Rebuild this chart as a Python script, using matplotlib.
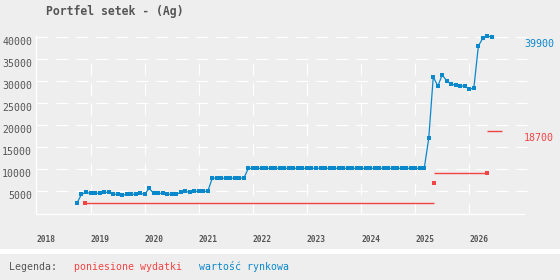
import matplotlib
matplotlib.use("Agg")
import matplotlib.pyplot as plt
import pandas as pd
from matplotlib.patches import Rectangle

# ---------------- data ----------------
title = "Portfel setek - (Ag)"
start_month = "2018-10-01"
market_value = [
    2300, 4250, 4700, 4480, 4480, 4480, 4700, 4700, 4250, 4250,
    4000, 4250, 4250, 4250, 4480, 4250, 5600, 4480, 4480, 4480,
    4250, 4250, 4250, 4700, 4930, 4700, 4930, 4930, 4930, 4930,
    7900, 7900, 7900, 7900, 7900, 7900, 7900, 7900,
    10150, 10150, 10150, 10150, 10150, 10150, 10150, 10150, 10150, 10150,
    10150, 10150, 10150, 10150, 10150, 10150, 10150, 10150, 10150, 10150,
    10150, 10150, 10150, 10150, 10150, 10150, 10150, 10150, 10150, 10150,
    10150, 10150, 10150, 10150, 10150, 10150, 10150, 10150, 10150, 10150,
    16970, 30900, 28800, 31360, 29930, 29250, 29000, 28800, 28800, 28100,
    28340, 37890, 39700, 40160, 39900,
]
# spending: marker points and horizontal segments (start, end, level)
spend_marker_x = [2018.9, 2025.34, 2026.33]
spend_marker_y = [2200, 6750, 9000]
spend_seg_start = [2018.9, 2025.34, 2026.33]
spend_seg_end = [2025.34, 2026.33, 2026.6]
spend_seg_level = [2200, 9000, 18700]

last_market = 39900
last_spend = 18700
years = [2018, 2019, 2020, 2021, 2022, 2023, 2024, 2025, 2026]
yticks = [5000, 10000, 15000, 20000, 25000, 30000, 35000, 40000]
legend_title = "Legenda:"
legend_spend = "poniesione wydatki"
legend_market = "wartość rynkowa"

# ---------------- style ----------------
BG = "#eeeeee"
BLUE = "#0a88cc"
RED = "#f24444"
GRAY = "#555555"
MONO = ["DejaVu Sans Mono"]
plt.rcParams["lines.scale_dashes"] = False
plt.rcParams["font.family"] = MONO

dates = pd.date_range(start_month, periods=len(market_value), freq="MS")
xdec = [d.year + (d.month - 1) / 12 for d in dates]

fig = plt.figure(figsize=(5.6, 2.8), dpi=100, facecolor=BG)
ax = fig.add_axes([36.4 / 560, (280 - 214) / 280, (524 - 36.4) / 560, (214 - 36) / 280])
ax.set_facecolor(BG)
ax.set_xlim(2018, 2027.01)
ax.set_ylim(-220, 40160)

dash = (0, (8.64, 5.76))
x_end = 2018 + (527 - 36.4) / 54.1
for y in yticks:
    ax.plot([2018, x_end], [y, y], color="white", lw=0.85, ls=dash, clip_on=False, zorder=1)
for yr in years[1:]:
    ax.plot([yr, yr], [34030, -220], color="white", lw=0.85, ls=dash, zorder=1)

for s in ["top", "right"]:
    ax.spines[s].set_visible(False)
for s in ["left", "bottom"]:
    ax.spines[s].set_color("white")
    ax.spines[s].set_linewidth(0.9)

ax.set_xticks(years)
ax.set_xticklabels([str(y) for y in years])
ax.set_yticks(yticks)
ax.set_yticklabels([str(y) for y in yticks])
ax.tick_params(axis="both", length=0)
ax.tick_params(axis="x", pad=15, labelsize=5.7, labelcolor=GRAY)
ax.tick_params(axis="y", pad=3, labelsize=7.1, labelcolor=GRAY)
for lab in ax.get_xticklabels():
    lab.set_ha("left")
    lab.set_fontweight("bold")
for lab in ax.get_yticklabels():
    lab.set_va("top")

# market value
ax.plot(xdec, market_value, color=BLUE, lw=0.9, marker="s", ms=2.3, mew=0,
        zorder=4, clip_on=False)
# spending
ax.hlines(spend_seg_level, spend_seg_start, spend_seg_end, color=RED, lw=1.0, zorder=3)
ax.plot(spend_marker_x, spend_marker_y, ls="none", marker="s", ms=2.4, mew=0,
        color=RED, zorder=3)

ax.annotate(str(last_market), xy=(1.0, last_market), xycoords=("axes fraction", "data"),
            xytext=(0, -5), textcoords="offset points", ha="left", va="center",
            color=BLUE, fontsize=7.2)
ax.annotate(str(last_spend), xy=(1.0, last_spend), xycoords=("axes fraction", "data"),
            xytext=(0, -5), textcoords="offset points", ha="left", va="center",
            color=RED, fontsize=7.2)

fig.text(45.7 / 560, 1 - 11.7 / 280, title, fontsize=8.3, fontweight="bold",
         color=GRAY, va="center", ha="left")

fig.patches.append(Rectangle((0, 1 - 254 / 280), 1, 4.7 / 280, transform=fig.transFigure,
                             facecolor="white", edgecolor="none"))
ly = 1 - 266.7 / 280
fig.text(9.3 / 560, ly, legend_title, fontsize=7.1, color=GRAY, va="center")
fig.text(74 / 560, ly, legend_spend, fontsize=7.1, color=RED, va="center")
fig.text(199.3 / 560, ly, legend_market, fontsize=7.1, color=BLUE, va="center")

fig.savefig("out.png", dpi=100, facecolor=BG)
